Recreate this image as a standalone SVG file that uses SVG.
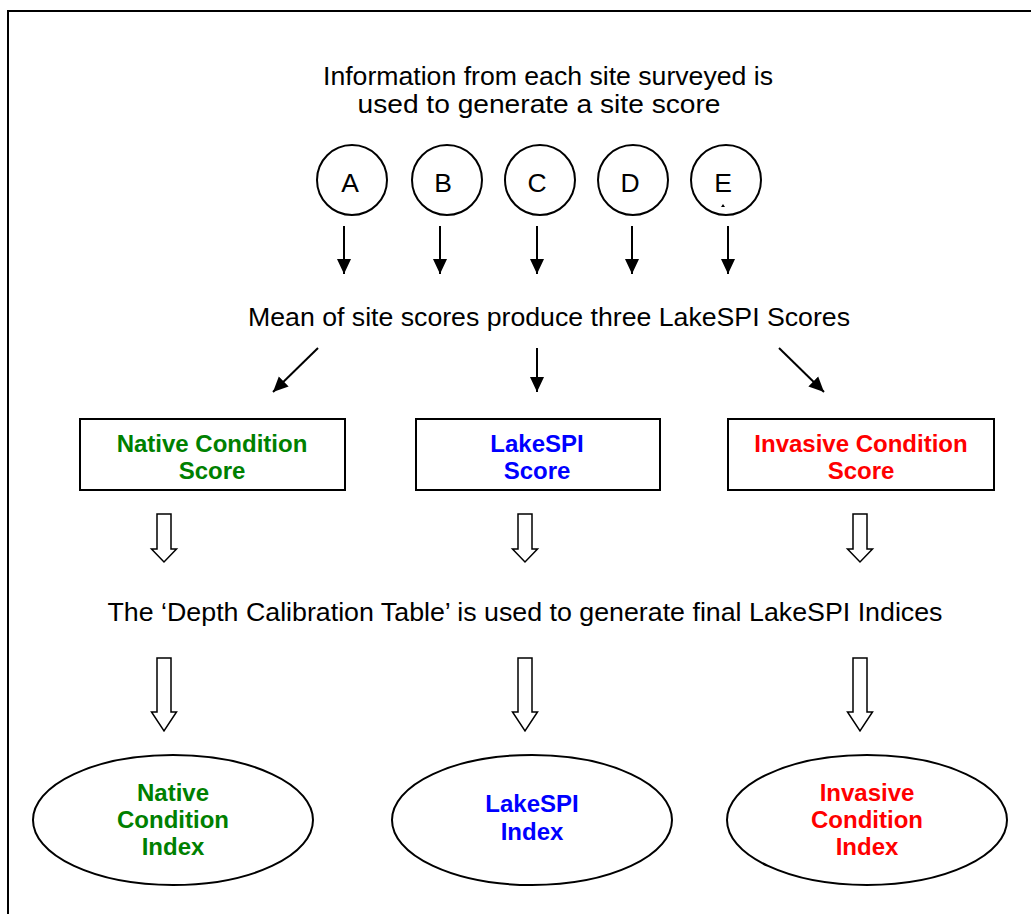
<svg xmlns="http://www.w3.org/2000/svg" width="1031" height="914" viewBox="0 0 1031 914">
  <defs>
    <style>
      .frame { fill: none; stroke: #000; stroke-width: 2; }
      .shape { fill: #fff; stroke: #000; stroke-width: 2; }
      .plain { font-family: "Liberation Sans", Arial, sans-serif; font-size: 26.5px; fill: #000; text-anchor: middle; }
      .label { font-family: "Liberation Sans", Arial, sans-serif; font-size: 24px; font-weight: bold; text-anchor: middle; }
      .green { fill: #008000; }
      .blue { fill: #0000ff; }
      .red { fill: #ff0000; }
      .link { stroke: #000; stroke-width: 2; fill: none; marker-end: url(#head); }
      .hollow { fill: #fff; stroke: #000; stroke-width: 1.5; stroke-linejoin: miter; }
    </style>
    <marker id="head" markerUnits="userSpaceOnUse" markerWidth="16" markerHeight="16" viewBox="0 0 16 16" refX="15" refY="8" orient="auto">
      <path d="M0,1 L15,8 L0,15 Z" fill="#000"/>
    </marker>
    <path id="shortArrow" d="M-7,0 H7 V35 H12.5 L0,48 L-12.5,35 H-7 Z"/>
    <path id="longArrow" d="M-7,0 H7 V54 H12.5 L0,73 L-12.5,54 H-7 Z"/>
  </defs>

  <rect width="1031" height="914" fill="#fff"/>
  <!-- outer frame runs off the right and bottom edges -->
  <rect class="frame" x="8" y="11" width="1040" height="920"/>

  <g id="heading">
    <text class="plain" x="548" y="85" font-size="25" textLength="450" lengthAdjust="spacingAndGlyphs">Information from each site surveyed is</text>
    <text class="plain" x="539" y="113" font-size="25" textLength="363" lengthAdjust="spacingAndGlyphs">used to generate a site score</text>
  </g>

  <g id="site-A">
    <circle class="shape" cx="352" cy="180" r="35"/>
    <text class="plain" x="350" y="192">A</text>
  </g>
  <g id="site-B">
    <circle class="shape" cx="447" cy="180" r="35"/>
    <text class="plain" x="443" y="192">B</text>
  </g>
  <g id="site-C">
    <circle class="shape" cx="540" cy="180" r="35"/>
    <text class="plain" x="537" y="192">C</text>
  </g>
  <g id="site-D">
    <circle class="shape" cx="633" cy="180" r="35"/>
    <text class="plain" x="630" y="192">D</text>
  </g>
  <g id="site-E">
    <circle class="shape" cx="726" cy="180" r="35"/>
    <text class="plain" x="723" y="192">E</text>
    <path d="M721,207 L723,204 L725,207 Z" fill="#000"/>
  </g>

  <g id="mean-step">
    <text class="plain" x="549" y="326" textLength="602" lengthAdjust="spacingAndGlyphs">Mean of site scores produce three LakeSPI Scores</text>
  </g>

  <g id="native-score">
    <rect class="shape" x="80" y="419" width="265" height="71"/>
    <text class="label green" x="212" y="452">Native Condition</text>
    <text class="label green" x="212" y="479">Score</text>
  </g>
  <g id="lakespi-score">
    <rect class="shape" x="416" y="419" width="244" height="71"/>
    <text class="label blue" x="537" y="452">LakeSPI</text>
    <text class="label blue" x="537" y="479">Score</text>
  </g>
  <g id="invasive-score">
    <rect class="shape" x="728" y="419" width="266" height="71"/>
    <text class="label red" x="861" y="452">Invasive Condition</text>
    <text class="label red" x="861" y="479">Score</text>
  </g>

  <g id="calibration-step">
    <text class="plain" x="525" y="621" font-size="28" textLength="835" lengthAdjust="spacingAndGlyphs">The ‘Depth Calibration Table’ is used to generate final LakeSPI Indices</text>
  </g>

  <g id="native-index">
    <ellipse class="shape" cx="173" cy="820" rx="140" ry="65"/>
    <text class="label green" x="173" y="801">Native</text>
    <text class="label green" x="173" y="828">Condition</text>
    <text class="label green" x="173" y="855">Index</text>
  </g>
  <g id="lakespi-index">
    <ellipse class="shape" cx="532" cy="820" rx="140" ry="65"/>
    <text class="label blue" x="532" y="812">LakeSPI</text>
    <text class="label blue" x="532" y="840">Index</text>
  </g>
  <g id="invasive-index">
    <ellipse class="shape" cx="867" cy="820" rx="140" ry="65"/>
    <text class="label red" x="867" y="801">Invasive</text>
    <text class="label red" x="867" y="828">Condition</text>
    <text class="label red" x="867" y="855">Index</text>
  </g>

  <g id="connectors">
    <!-- site scores feed the mean -->
    <line class="link" x1="344" y1="226" x2="344" y2="274"/>
    <line class="link" x1="440" y1="226" x2="440" y2="274"/>
    <line class="link" x1="537" y1="226" x2="537" y2="274"/>
    <line class="link" x1="632" y1="226" x2="632" y2="274"/>
    <line class="link" x1="728" y1="226" x2="728" y2="274"/>
    <!-- mean splits into the three scores -->
    <line class="link" x1="318" y1="348" x2="273" y2="392"/>
    <line class="link" x1="537" y1="348" x2="537" y2="392"/>
    <line class="link" x1="779" y1="348" x2="824" y2="392"/>
    <!-- block arrows -->
    <use href="#shortArrow" class="hollow" x="164" y="514"/>
    <use href="#shortArrow" class="hollow" x="525" y="514"/>
    <use href="#shortArrow" class="hollow" x="860" y="514"/>
    <use href="#longArrow" class="hollow" x="164" y="658"/>
    <use href="#longArrow" class="hollow" x="525" y="658"/>
    <use href="#longArrow" class="hollow" x="860" y="658"/>
  </g>
</svg>
